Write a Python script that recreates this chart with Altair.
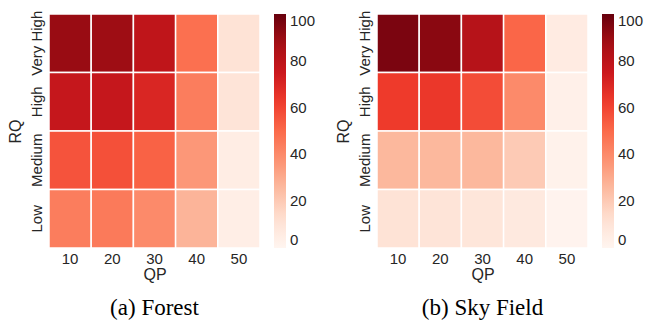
import altair as alt
import pandas as pd

qp_levels = [10, 20, 30, 40, 50]
rq_levels = ["Very High", "High", "Medium", "Low"]  # top to bottom

forest_values = [
    [90, 89, 79, 48, 11],   # Very High
    [77, 77, 70, 44, 10],   # High
    [56, 57, 52, 36, 5],    # Medium
    [44, 45, 40, 27, 4],    # Low
]
sky_values = [
    [96, 93, 82, 51, 6],
    [63, 64, 58, 40, 3],
    [26, 26, 26, 20, 2],
    [11, 10, 9, 7, 1],
]
captions = ["(a) Forest", "(b) Sky Field"]

reds_stops = [0, 12.5, 25, 37.5, 50, 62.5, 75, 87.5, 100]
reds_colors = ["#fff5f0", "#fee0d2", "#fcbba1", "#fc9272", "#fb6a4a",
               "#ef3b2c", "#cb181d", "#a50f15", "#67000d"]

FONT = "Liberation Sans"
TXT = "#262626"


def to_df(values):
    rows = []
    for i, rq in enumerate(rq_levels):
        for j, qp in enumerate(qp_levels):
            rows.append({"RQ": rq, "QP": qp, "value": values[i][j]})
    return pd.DataFrame(rows)


def panel(values, caption):
    df = to_df(values)
    return alt.Chart(df).mark_rect(stroke="white", strokeWidth=1.5).encode(
        x=alt.X("QP:O", sort=qp_levels, title="QP",
                axis=alt.Axis(labelAngle=0, ticks=False, domain=False,
                              labelPadding=3, titlePadding=0,
                              labelFont=FONT, labelFontSize=15, labelColor=TXT,
                              titleFont=FONT, titleFontSize=16, titleFontWeight="normal",
                              titleColor=TXT)),
        y=alt.Y("RQ:O", sort=rq_levels, title="RQ",
                axis=alt.Axis(labelAngle=-90, labelAlign="center", labelBaseline="bottom",
                              ticks=False, domain=False, labelPadding=5, titlePadding=6,
                              labelFont=FONT, labelFontSize=15, labelColor=TXT,
                              titleFont=FONT, titleFontSize=16, titleFontWeight="normal",
                              titleColor=TXT)),
        color=alt.Color("value:Q", title=None,
                        scale=alt.Scale(domain=reds_stops, range=reds_colors, interpolate="rgb"),
                        legend=alt.Legend(orient="right", direction="vertical", offset=14,
                                          gradientLength=234, gradientThickness=12,
                                          gradientStrokeWidth=0,
                                          values=[0, 20, 40, 60, 80, 100],
                                          labelFont=FONT, labelFontSize=15, labelColor=TXT,
                                          labelBaseline="middle", labelOffset=4)),
    ).properties(
        width=211, height=234,
        title=alt.Title(caption, orient="bottom", font="Liberation Serif", fontSize=23,
                        fontWeight="normal", color="black", offset=15),
    )


chart = alt.hconcat(
    panel(forest_values, captions[0]),
    panel(sky_values, captions[1]),
    spacing=18,
).resolve_scale(color="independent").configure_view(stroke=None).properties(
    padding={"left": 6, "top": 10, "right": 5, "bottom": 2}
)

chart.save("out.html", embed_options={"renderer": "svg", "actions": False})
